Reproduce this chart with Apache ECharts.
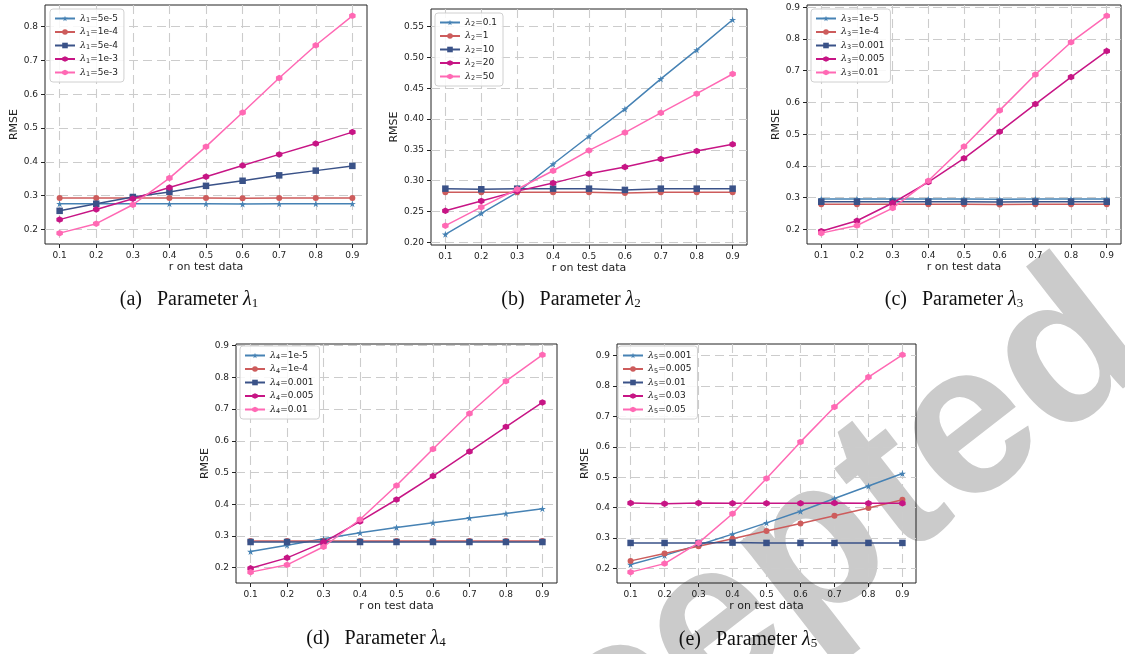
<!DOCTYPE html>
<html>
<head>
<meta charset="utf-8">
<script src="https://cdn.jsdelivr.net/npm/echarts@6/dist/echarts.min.js"></script>
<style>
  html, body { margin: 0; padding: 0; background: #fff; }
  #chart { width: 1125px; height: 654px; }
</style>
</head>
<body>
<div id="chart"></div>
<script>
// r on test data
const rValues = [0.1, 0.2, 0.3, 0.4, 0.5, 0.6, 0.7, 0.8, 0.9];
const xTicks = [0.1, 0.2, 0.3, 0.4, 0.5, 0.6, 0.7, 0.8, 0.9];

// (a) lambda 1
const lambda1Values = ['5e-5', '1e-4', '5e-4', '1e-3', '5e-3'];
const rmseA1 = [0.276, 0.276, 0.276, 0.276, 0.276, 0.275, 0.276, 0.276, 0.276];
const rmseA2 = [0.293, 0.293, 0.293, 0.293, 0.293, 0.292, 0.293, 0.293, 0.293];
const rmseA3 = [0.255, 0.276, 0.296, 0.311, 0.329, 0.344, 0.360, 0.374, 0.388];
const rmseA4 = [0.229, 0.259, 0.291, 0.324, 0.356, 0.389, 0.422, 0.454, 0.488];
const rmseA5 = [0.189, 0.217, 0.273, 0.352, 0.445, 0.546, 0.648, 0.745, 0.832];
const yTicksA = [0.2, 0.3, 0.4, 0.5, 0.6, 0.7, 0.8];

// (b) lambda 2
const lambda2Values = ['0.1', '1', '10', '20', '50'];
const rmseB1 = [0.213, 0.247, 0.281, 0.327, 0.372, 0.416, 0.465, 0.512, 0.561];
const rmseB2 = [0.281, 0.281, 0.281, 0.281, 0.281, 0.280, 0.281, 0.281, 0.281];
const rmseB3 = [0.287, 0.286, 0.287, 0.287, 0.287, 0.285, 0.287, 0.287, 0.287];
const rmseB4 = [0.251, 0.267, 0.283, 0.296, 0.311, 0.322, 0.335, 0.348, 0.359];
const rmseB5 = [0.227, 0.257, 0.286, 0.316, 0.349, 0.378, 0.410, 0.441, 0.473];
const yTicksB = [0.20, 0.25, 0.30, 0.35, 0.40, 0.45, 0.50, 0.55];

// (c) lambda 3
const lambda3Values = ['1e-5', '1e-4', '0.001', '0.005', '0.01'];
const rmseC1 = [0.296, 0.296, 0.296, 0.296, 0.296, 0.295, 0.296, 0.296, 0.296];
const rmseC2 = [0.279, 0.279, 0.279, 0.279, 0.279, 0.278, 0.279, 0.279, 0.279];
const rmseC3 = [0.287, 0.287, 0.287, 0.287, 0.287, 0.286, 0.287, 0.287, 0.287];
const rmseC4 = [0.194, 0.227, 0.283, 0.349, 0.424, 0.508, 0.595, 0.680, 0.762];
const rmseC5 = [0.188, 0.212, 0.267, 0.353, 0.461, 0.575, 0.688, 0.790, 0.873];
const yTicksC = [0.2, 0.3, 0.4, 0.5, 0.6, 0.7, 0.8, 0.9];

// (d) lambda 4
const lambda4Values = ['1e-5', '1e-4', '0.001', '0.005', '0.01'];
const rmseD1 = [0.251, 0.271, 0.291, 0.310, 0.327, 0.342, 0.357, 0.371, 0.386];
const rmseD2 = [0.284, 0.284, 0.284, 0.284, 0.284, 0.284, 0.284, 0.284, 0.284];
const rmseD3 = [0.281, 0.281, 0.281, 0.281, 0.281, 0.281, 0.281, 0.281, 0.281];
const rmseD4 = [0.198, 0.231, 0.280, 0.346, 0.415, 0.489, 0.566, 0.644, 0.721];
const rmseD5 = [0.186, 0.209, 0.266, 0.352, 0.459, 0.574, 0.686, 0.788, 0.871];
const yTicksD = [0.2, 0.3, 0.4, 0.5, 0.6, 0.7, 0.8, 0.9];

// (e) lambda 5
const lambda5Values = ['0.001', '0.005', '0.01', '0.03', '0.05'];
const rmseE1 = [0.213, 0.243, 0.277, 0.313, 0.350, 0.388, 0.430, 0.471, 0.512];
const rmseE2 = [0.225, 0.249, 0.273, 0.298, 0.323, 0.348, 0.373, 0.399, 0.426];
const rmseE3 = [0.284, 0.284, 0.284, 0.285, 0.284, 0.284, 0.284, 0.284, 0.284];
const rmseE4 = [0.415, 0.413, 0.415, 0.414, 0.414, 0.414, 0.415, 0.414, 0.414];
const rmseE5 = [0.188, 0.216, 0.284, 0.380, 0.496, 0.616, 0.731, 0.829, 0.902];
const yTicksE = [0.2, 0.3, 0.4, 0.5, 0.6, 0.7, 0.8, 0.9];

const colors = ['#4682b4', '#cd5c5c', '#3a5288', '#c71585', '#ff69b4'];
const starPath = 'path://M50,0 L61,35 L98,35 L68,57 L79,91 L50,70 L21,91 L32,57 L2,35 L39,35 Z';
const hexPath = 'path://M50,0 L93,25 L93,75 L50,100 L7,75 L7,25 Z';
const symbols = [starPath, 'circle', 'rect', hexPath, hexPath];
const symbolSizes = [7, 6, 6.5, 6.5, 6.5];

const panels = [
  { k: 1, tag: 'a', values: lambda1Values, rmse: [rmseA1, rmseA2, rmseA3, rmseA4, rmseA5], yTicks: yTicksA, digits: 1,
    grid: { left: 45, top: 5, width: 322, height: 239 }, nameGap: 23, legend: { left: 50, top: 9 }, caption: [189, 300] },
  { k: 2, tag: 'b', values: lambda2Values, rmse: [rmseB1, rmseB2, rmseB3, rmseB4, rmseB5], yTicks: yTicksB, digits: 2,
    grid: { left: 431, top: 9, width: 316, height: 236 }, nameGap: 31, legend: { left: 435, top: 13 }, caption: [571, 300] },
  { k: 3, tag: 'c', values: lambda3Values, rmse: [rmseC1, rmseC2, rmseC3, rmseC4, rmseC5], yTicks: yTicksC, digits: 1,
    grid: { left: 807, top: 5, width: 314, height: 239 }, nameGap: 24, legend: { left: 811, top: 9 }, caption: [954, 300] },
  { k: 4, tag: 'd', values: lambda4Values, rmse: [rmseD1, rmseD2, rmseD3, rmseD4, rmseD5], yTicks: yTicksD, digits: 1,
    grid: { left: 236, top: 344, width: 321, height: 239 }, nameGap: 24, legend: { left: 240, top: 346 }, caption: [376, 639] },
  { k: 5, tag: 'e', values: lambda5Values, rmse: [rmseE1, rmseE2, rmseE3, rmseE4, rmseE5], yTicks: yTicksE, digits: 1,
    grid: { left: 617, top: 344, width: 299, height: 239 }, nameGap: 26, legend: { left: 618, top: 346 }, caption: [748, 640] }
];

const tickFont = { fontFamily: 'DejaVu Sans', fontSize: 9, color: '#222' };
const nameFont = { fontFamily: 'DejaVu Sans', fontSize: 11, color: '#222' };
const gridLine = { show: true, lineStyle: { color: '#cccccc', width: 1.1, type: [9, 5] } };

const option = { animation: false, grid: [], xAxis: [], yAxis: [], legend: [], series: [], graphic: [] };

panels.forEach((p, i) => {
  // matplotlib-style 5% margins
  const all = [].concat(...p.rmse);
  const lo = Math.min(...all), hi = Math.max(...all);
  const pad = (hi - lo) * 0.05;

  option.grid.push(Object.assign({ show: true, borderColor: '#222', borderWidth: 1, containLabel: false }, p.grid));
  option.xAxis.push({
    type: 'value', gridIndex: i, min: 0.06, max: 0.94,
    name: 'r on test data', nameLocation: 'middle', nameGap: 18, nameTextStyle: nameFont,
    axisLine: { show: false },
    axisTick: { show: true, length: 4, inside: false, customValues: xTicks, lineStyle: { color: '#222' } },
    axisLabel: Object.assign({ margin: 7, customValues: xTicks, formatter: v => v.toFixed(1) }, tickFont),
    splitLine: gridLine
  });
  option.yAxis.push({
    type: 'value', gridIndex: i, min: lo - pad, max: hi + pad,
    name: 'RMSE', nameLocation: 'middle', nameGap: p.nameGap, nameTextStyle: nameFont,
    axisLine: { show: false },
    axisTick: { show: true, length: 4, inside: false, customValues: p.yTicks, lineStyle: { color: '#222' } },
    axisLabel: Object.assign({ margin: 7, customValues: p.yTicks, formatter: v => v.toFixed(p.digits) }, tickFont),
    splitLine: gridLine
  });

  const names = p.values.map(v => 'λ' + p.k + '=' + v);
  option.legend.push({
    left: p.legend.left, top: p.legend.top, orient: 'vertical',
    itemWidth: 20, itemHeight: 7, itemGap: 2.5,
    padding: [4, 6, 4, 4],
    borderColor: '#d0d0d0', borderWidth: 1, borderRadius: 3,
    backgroundColor: 'rgba(255,255,255,0.85)',
    data: names,
    formatter: n => '{l|λ}{s|' + p.k + '}{t|' + n.slice(2) + '}',
    textStyle: {
      fontFamily: 'DejaVu Sans', fontSize: 9, color: '#222',
      rich: {
        l: { fontFamily: 'DejaVu Serif', fontStyle: 'italic', fontSize: 9.5, lineHeight: 11 },
        s: { fontFamily: 'DejaVu Sans', fontSize: 6.5, lineHeight: 11, padding: [4, 0, 0, 0] },
        t: { fontFamily: 'DejaVu Sans', fontSize: 9, lineHeight: 11 }
      }
    }
  });

  p.rmse.forEach((arr, s) => {
    option.series.push({
      name: names[s], type: 'line', xAxisIndex: i, yAxisIndex: i,
      data: rValues.map((r, j) => [r, arr[j]]),
      symbol: symbols[s], symbolSize: symbolSizes[s],
      lineStyle: { color: colors[s], width: 1.5 },
      itemStyle: { color: colors[s] },
      z: 3 + s
    });
  });

  option.graphic.push({
    type: 'text', x: p.caption[0], y: p.caption[1],
    style: {
      text: '{p|(' + p.tag + ')   Parameter }{l|λ}{s|' + p.k + '}',
      align: 'center', verticalAlign: 'middle', fill: '#111',
      rich: {
        p: { fontFamily: 'Liberation Serif', fontSize: 20, lineHeight: 24 },
        l: { fontFamily: 'Liberation Serif', fontStyle: 'italic', fontSize: 20, lineHeight: 24 },
        s: { fontFamily: 'Liberation Serif', fontSize: 13, lineHeight: 24, padding: [8, 0, 0, 0] }
      }
    }
  });
});

// faint "Accepted" watermark running up to the right
option.graphic.push({
  type: 'text', x: 738, y: 612, rotation: 0.66, z: -10,
  style: {
    text: 'Accepted', align: 'center', verticalAlign: 'middle',
    fontFamily: 'Liberation Sans', fontWeight: 'bold', fontSize: 215, fill: '#cbcbcb'
  }
});

const chart = echarts.init(document.getElementById('chart'));
chart.setOption(option);
</script>
</body>
</html>
